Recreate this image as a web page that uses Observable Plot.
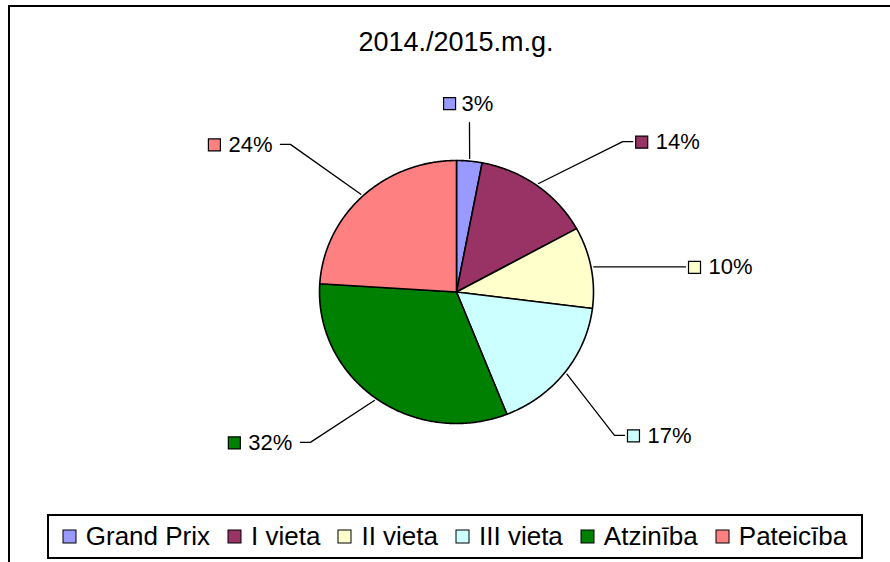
<!DOCTYPE html>
<html><head><meta charset="utf-8">
<script src="https://cdn.jsdelivr.net/npm/d3@7"></script>
<script src="https://cdn.jsdelivr.net/npm/@observablehq/plot@0.6"></script>
<style>
html,body{margin:0;padding:0;background:#fff;}
body{width:890px;height:562px;overflow:hidden;position:relative;font-family:"Liberation Sans",Arial,sans-serif;}
#chart{position:absolute;left:0;top:0;}
#frame{position:absolute;left:8px;top:5px;width:1000px;height:1000px;border:2px solid #000;pointer-events:none;}
#title{position:absolute;left:0;width:912px;top:29px;text-align:center;font-size:27px;line-height:26px;color:#000;white-space:nowrap;}
#legend{position:absolute;left:47px;top:514px;width:816px;height:45px;box-sizing:border-box;border:2px solid #000;display:flex;align-items:center;justify-content:center;background:#fff;}
#legend .lg-swatches{margin:0 !important;min-height:0 !important;font-size:26px !important;font-family:"Liberation Sans",Arial,sans-serif !important;color:#000 !important;display:flex;flex-wrap:nowrap;align-items:center;}
#legend .lg-swatch{margin-right:18px !important;display:inline-flex;align-items:center;white-space:nowrap;}
#legend .lg-swatch:last-child{margin-right:0 !important;}
#legend .lg-swatch > svg{margin-right:10px !important;overflow:visible !important;}
#legend .lg-swatch > svg rect{stroke:#000;stroke-width:1px;}
</style>
</head><body>
<div id="chart"></div>
<div id="frame"></div>
<div id="title"></div>
<div id="legend"></div>
<script>
// ---- data ----
const title = "2014./2015.m.g.";
const categories = ["Grand Prix", "I vieta", "II vieta", "III vieta", "Atzinība", "Pateicība"];
const percents = [3, 14, 10, 17, 32, 24];
const colors = ["#9999FF", "#993366", "#FFFFCC", "#CCFFFF", "#008000", "#FF8080"];
// label placement (Excel "best fit" result): elbow angle (deg clockwise from 12 o'clock), radius in pie radii
const labelAngles = [4.2, 46.7, 83.2, 133.4, 223.0, 312.8];
const labelRadii = [1.292, 1.667, 1.610, 1.587, 1.564, 1.652];

// ---- geometry ----
const W = 890, H = 505;
const cx = 456, cy = 291.5, rx = 137, ry = 131.5;
const FONT = "'Liberation Sans', Arial, sans-serif";
const labelSize = 22;

const total = d3.sum(percents);
const toRad = Math.PI / 180;
let acc = 0;
const slices = categories.map((c, i) => {
  const a0 = acc / total * 2 * Math.PI;
  acc += percents[i];
  const a1 = acc / total * 2 * Math.PI;
  return {cat: c, value: percents[i], a0, a1, mid: (a0 + a1) / 2};
});

// slice polygons in unit coordinates (y up)
const sliceRows = [];
for (const s of slices) {
  sliceRows.push({cat: s.cat, x: 0, y: 0});
  const n = Math.max(2, Math.ceil((s.a1 - s.a0) / (0.5 * toRad)));
  for (let k = 0; k <= n; k++) {
    const t = s.a0 + (s.a1 - s.a0) * k / n;
    sliceRows.push({cat: s.cat, x: Math.sin(t), y: Math.cos(t)});
  }
}

// text width measure
const ctx = document.createElement("canvas").getContext("2d");
ctx.font = `${labelSize}px ${FONT}`;
const tw = (t) => ctx.measureText(t).width;

const leaderRows = [], textRows = [], swatchRows = [];
slices.forEach((s, i) => {
  const label = s.value + "%";
  const S = {x: 1.02 * Math.sin(s.mid), y: 1.02 * Math.cos(s.mid)};
  const la = labelAngles[i] * toRad, lr = labelRadii[i];
  const E = {x: lr * Math.sin(la), y: lr * Math.cos(la)};
  const sx = Math.sin(la);
  const side = sx > 0.2 ? 1 : sx < -0.2 ? -1 : 0;
  const A = side === 0 ? E : {x: E.x + side * 10 / rx, y: E.y};
  leaderRows.push({cat: s.cat, x: S.x, y: S.y}, {cat: s.cat, x: E.x, y: E.y});
  if (side !== 0) leaderRows.push({cat: s.cat, x: A.x, y: A.y});
  const w = tw(label);
  let sw, tx, ty;
  if (side === 1) {
    sw = A.x + 9 / rx; tx = A.x + 23 / rx; ty = A.y - 0.5 / ry;
  } else if (side === -1) {
    tx = A.x - (8 + w) / rx; sw = tx - 14 / rx; ty = A.y - 0.5 / ry;
  } else {
    const bw = 12 + 6 + w;
    const start = A.x - (bw / 2 + 1) / rx;
    sw = start + 6 / rx; tx = start + 18 / rx; ty = A.y + 19 / ry;
  }
  textRows.push({x: tx, y: ty, label});
  swatchRows.push({x: sw, y: ty, cat: s.cat});
});

const colorScale = {type: "ordinal", domain: categories, range: colors};

const plot = Plot.plot({
  width: W, height: H,
  margin: 0,
  style: {fontFamily: FONT, background: "transparent", overflow: "visible"},
  x: {type: "linear", domain: [-1, 1], range: [cx - rx, cx + rx], axis: null},
  y: {type: "linear", domain: [-1, 1], range: [cy + ry, cy - ry], axis: null},
  color: colorScale,
  marks: [
    Plot.line(sliceRows, {x: "x", y: "y", z: "cat", fill: "cat", stroke: "#000", strokeWidth: 1.6, curve: "linear-closed", strokeLinejoin: "round"}),
    Plot.line(leaderRows, {x: "x", y: "y", z: "cat", stroke: "#000", strokeWidth: 1.3}),
    Plot.dot(swatchRows, {x: "x", y: "y", fill: "cat", symbol: "square", r: 12 / Math.sqrt(Math.PI), stroke: "#000", strokeWidth: 1.2}),
    Plot.text(textRows, {x: "x", y: "y", text: "label", textAnchor: "start", fontSize: labelSize, fontFamily: FONT, fill: "#000"})
  ]
});
document.getElementById("chart").appendChild(plot);
document.getElementById("title").textContent = title;

const legend = Plot.legend({
  color: colorScale,
  legend: "swatches",
  swatchSize: 13,
  className: "lg",
  style: {fontSize: "26px", fontFamily: FONT, color: "#000"}
});
document.getElementById("legend").appendChild(legend);
</script>
</body></html>
